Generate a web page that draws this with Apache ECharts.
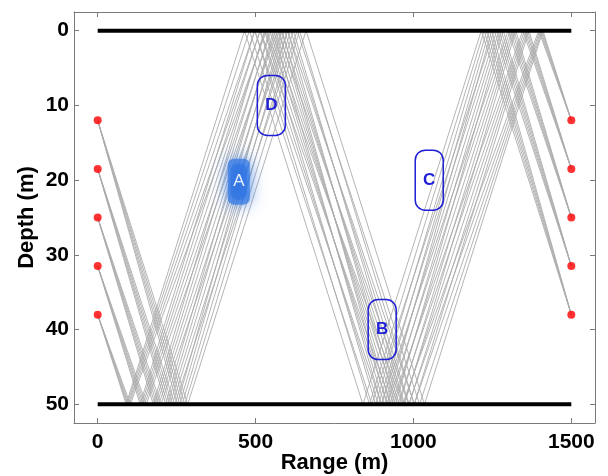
<!DOCTYPE html>
<html>
<head>
<meta charset="utf-8">
<script src="https://cdn.jsdelivr.net/npm/echarts@6/dist/echarts.min.js"></script>
<style>html,body{margin:0;padding:0;background:#fff}#c{width:608px;height:476px}</style>
</head>
<body>
<div id="c"></div>
<script>
// ---- data ----
var sourceRange = 0;
var receiverRange = 1500;
var sourceDepths = [12, 18.5, 25, 31.5, 38];
var receiverDepths = [12, 18.5, 25, 31.5, 38];
var surfaceDepth = 0;
var bottomDepth = 50;
// bounce ranges (m), one row per source, one column per receiver
var bottomHit1 = [
  [285.0, 276.0, 267.6, 259.7, 252.2],
  [244.2, 236.3, 228.8, 221.8, 215.3],
  [200.5, 193.8, 187.5, 181.6, 176.1],
  [153.7, 148.4, 143.4, 138.8, 134.4],
  [103.4, 99.7, 96.3, 93.0, 90.0]
];
var surfaceHit1 = [
  [660.0, 639.2, 619.7, 601.4, 584.1],
  [631.8, 611.3, 592.0, 573.9, 556.9],
  [601.6, 581.4, 562.5, 544.8, 528.2],
  [569.3, 549.5, 531.0, 513.8, 497.6],
  [534.5, 515.2, 497.3, 480.6, 465.0]
];
var bottomHit2 = [
  [1035.0, 1002.4, 971.8, 943.1, 915.9],
  [1019.4, 986.3, 955.2, 926.1, 898.6],
  [1002.7, 969.0, 937.5, 908.0, 880.3],
  [984.8, 950.5, 918.6, 888.8, 860.8],
  [965.5, 930.7, 898.4, 868.2, 840.0]
];
var surfaceHit2 = [
  [1410.0, 1365.6, 1324.0, 1284.7, 1247.8],
  [1407.0, 1361.3, 1318.4, 1278.2, 1240.3],
  [1403.7, 1356.6, 1312.5, 1271.2, 1232.4],
  [1400.3, 1351.6, 1306.2, 1263.8, 1224.0],
  [1396.6, 1346.3, 1299.5, 1255.8, 1215.0]
];
var xTicks = [0, 500, 1000, 1500];
var yTicks = [0, 10, 20, 30, 40, 50];
var regionLabels = ['A', 'B', 'C', 'D'];
var regionRanges = [447, 901, 1050, 550];
var regionDepths = [20.2, 40, 20, 10];

// ---- build ----
var series = [];
for (var i = 0; i < sourceDepths.length; i++) {
  for (var j = 0; j < receiverDepths.length; j++) {
    series.push({
      type: 'line', symbol: 'none', silent: true, animation: false, z: 1,
      lineStyle: { color: '#ababab', width: 0.9 },
      data: [
        [sourceRange, sourceDepths[i]],
        [bottomHit1[i][j], bottomDepth],
        [surfaceHit1[i][j], surfaceDepth],
        [bottomHit2[i][j], bottomDepth],
        [surfaceHit2[i][j], surfaceDepth],
        [receiverRange, receiverDepths[j]]
      ]
    });
  }
}
series.push({
  type: 'line', symbol: 'none', silent: true, animation: false, z: 3,
  lineStyle: { color: '#000', width: 4 },
  data: [[sourceRange, surfaceDepth], [receiverRange, surfaceDepth]]
});
series.push({
  type: 'line', symbol: 'none', silent: true, animation: false, z: 3,
  lineStyle: { color: '#000', width: 4 },
  data: [[sourceRange, bottomDepth], [receiverRange, bottomDepth]]
});
var dots = [];
sourceDepths.forEach(function (d) { dots.push([sourceRange, d]); });
receiverDepths.forEach(function (d) { dots.push([receiverRange, d]); });
series.push({
  type: 'scatter', symbolSize: 8, silent: true, animation: false, z: 5,
  itemStyle: { color: '#ff0000' },
  data: dots
});
var regions = regionLabels.map(function (l, k) { return [regionRanges[k], regionDepths[k], l]; });
series.push({
  type: 'custom', silent: true, animation: false, z: 6,
  data: regions,
  renderItem: function (params, api) {
    var p = api.coord([api.value(0), api.value(1)]);
    var label = regions[params.dataIndex][2];
    if (label === 'A') {
      return {
        type: 'group', children: [
          { type: 'rect', shape: { x: p[0] - 11, y: p[1] - 23, width: 22, height: 46, r: 6 },
            style: { fill: 'rgba(50,120,230,0.7)', shadowBlur: 16, shadowColor: 'rgba(50,120,230,1)' } },
          { type: 'rect', shape: { x: p[0] - 8, y: p[1] - 18, width: 16, height: 36, r: 6 },
            style: { fill: 'rgba(45,115,228,0.55)', shadowBlur: 8, shadowColor: 'rgba(45,115,228,0.8)' } },
          { type: 'text', x: p[0], y: p[1],
            style: { text: label, fill: '#e8efff', font: '17px "Liberation Sans"', align: 'center', verticalAlign: 'middle' } }
        ]
      };
    }
    return {
      type: 'group', children: [
        { type: 'rect', shape: { x: p[0] - 14, y: p[1] - 30, width: 28, height: 60, r: 10 },
          style: { fill: 'none', stroke: '#1f1fd6', lineWidth: 1.5 } },
        { type: 'text', x: p[0], y: p[1],
          style: { text: label, fill: '#1f1fd6', font: 'bold 17px "Liberation Sans"', align: 'center', verticalAlign: 'middle' } }
      ]
    };
  }
});

var axisLineStyle = { color: '#7a7a7a', width: 1 };
var tickFont = { fontSize: 21, fontWeight: 'bold', color: '#000', fontFamily: 'Liberation Sans' };
var nameFont = { fontSize: 22, fontWeight: 'bold', color: '#000', fontFamily: 'Liberation Sans' };
function plain(v) { return String(v); }

var option = {
  animation: false,
  grid: { left: 74, top: 12, width: 521, height: 411, containLabel: false, outerBoundsMode: 'none' },
  xAxis: [
    { type: 'value', min: -75, max: 1575, position: 'bottom',
      name: 'Range (m)', nameLocation: 'middle', nameGap: 29, nameMoveOverlap: false,
      nameTextStyle: nameFont,
      axisLine: { show: true, onZero: false, lineStyle: axisLineStyle },
      axisTick: { show: true, inside: true, length: 5, lineStyle: axisLineStyle, customValues: xTicks },
      axisLabel: Object.assign({ customValues: xTicks, margin: 9, formatter: plain }, tickFont),
      splitLine: { show: false } },
    { type: 'value', min: -75, max: 1575, position: 'top',
      axisLine: { show: true, onZero: false, lineStyle: axisLineStyle },
      axisTick: { show: true, inside: true, length: 5, lineStyle: axisLineStyle, customValues: xTicks },
      axisLabel: { show: false },
      splitLine: { show: false } }
  ],
  yAxis: [
    { type: 'value', min: -2.5, max: 52.5, inverse: true, position: 'left',
      name: 'Depth (m)', nameLocation: 'middle', nameGap: 36, nameMoveOverlap: false,
      nameTextStyle: nameFont,
      axisLine: { show: true, onZero: false, lineStyle: axisLineStyle },
      axisTick: { show: true, inside: true, length: 5, lineStyle: axisLineStyle, customValues: yTicks },
      axisLabel: Object.assign({ customValues: yTicks, margin: 5, formatter: plain }, tickFont),
      splitLine: { show: false } },
    { type: 'value', min: -2.5, max: 52.5, inverse: true, position: 'right',
      axisLine: { show: true, onZero: false, lineStyle: axisLineStyle },
      axisTick: { show: true, inside: true, length: 5, lineStyle: axisLineStyle, customValues: yTicks },
      axisLabel: { show: false },
      splitLine: { show: false } }
  ],
  series: series
};
var chart = echarts.init(document.getElementById('c'), null, { renderer: 'canvas' });
chart.setOption(option);
</script>
</body>
</html>
